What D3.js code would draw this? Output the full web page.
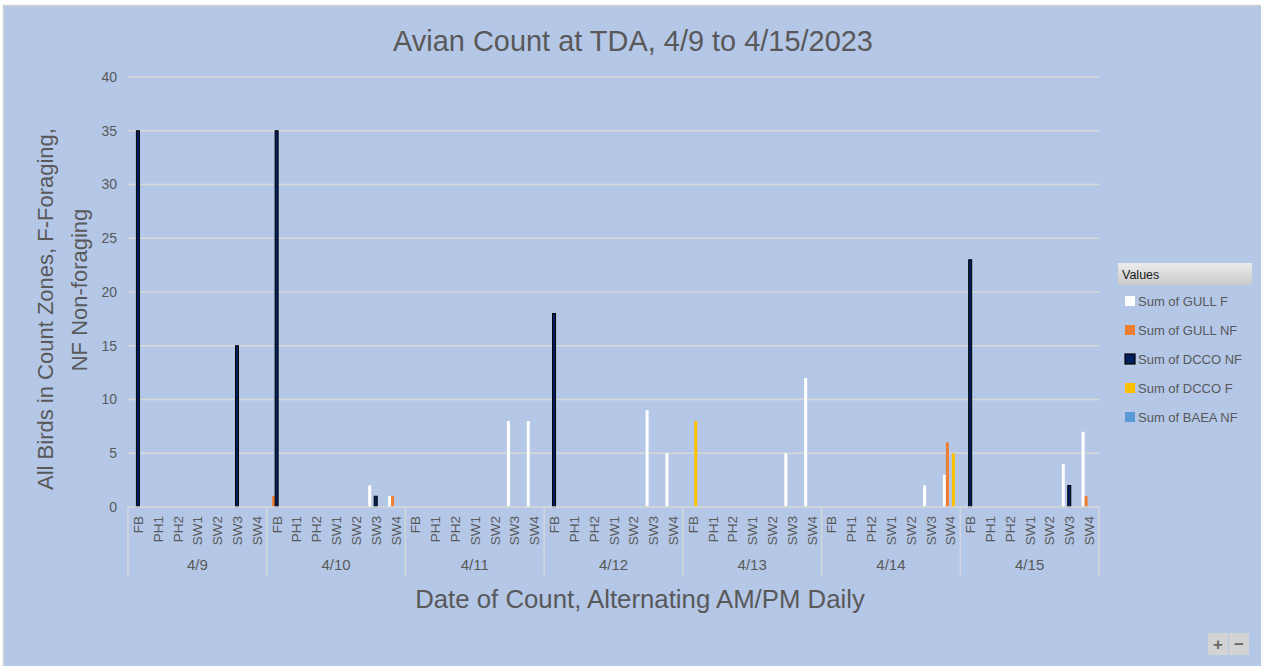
<!DOCTYPE html>
<html>
<head>
<meta charset="utf-8">
<script src="https://cdn.jsdelivr.net/npm/d3@7"></script>
<style>
  html, body { margin: 0; padding: 0; background: #ffffff; }
  svg { display: block; }
  text { font-family: "Liberation Sans", Arial, sans-serif; }
</style>
</head>
<body>
<svg id="chart" width="1261" height="666"></svg>
<script>
// ---- Data ----
const days = ["4/9", "4/10", "4/11", "4/12", "4/13", "4/14", "4/15"];
const zones = ["FB", "PH1", "PH2", "SW1", "SW2", "SW3", "SW4"];
const seriesNames = ["Sum of GULL F", "Sum of GULL NF", "Sum of DCCO NF", "Sum of DCCO F", "Sum of BAEA NF"];
const seriesColors = ["#ffffff", "#ED7D31", "#002060", "#FFC000", "#5B9BD5"];
const yTicks = [0, 5, 10, 15, 20, 25, 30, 35, 40];

// values per day, zone order FB, PH1, PH2, SW1, SW2, SW3, SW4
const gullF = [
  0, 0, 0, 0, 0, 0, 0,
  0, 0, 0, 0, 0, 2, 1,
  0, 0, 0, 0, 0, 8, 8,
  0, 0, 0, 0, 0, 9, 5,
  0, 0, 0, 0, 0, 5, 12,
  0, 0, 0, 0, 0, 2, 3,
  0, 0, 0, 0, 0, 4, 7
];
const gullNF = [
  0, 0, 0, 0, 0, 0, 0,
  1, 0, 0, 0, 0, 0, 1,
  0, 0, 0, 0, 0, 0, 0,
  0, 0, 0, 0, 0, 0, 0,
  0, 0, 0, 0, 0, 0, 0,
  0, 0, 0, 0, 0, 0, 6,
  0, 0, 0, 0, 0, 0, 1
];
const dccoNF = [
  35, 0, 0, 0, 0, 15, 0,
  35, 0, 0, 0, 0, 1, 0,
  0, 0, 0, 0, 0, 0, 0,
  18, 0, 0, 0, 0, 0, 0,
  0, 0, 0, 0, 0, 0, 0,
  0, 0, 0, 0, 0, 0, 0,
  23, 0, 0, 0, 0, 2, 0
];
const dccoF = [
  0, 0, 0, 0, 0, 0, 0,
  0, 0, 0, 0, 0, 0, 0,
  0, 0, 0, 0, 0, 0, 0,
  0, 0, 0, 0, 0, 0, 0,
  8, 0, 0, 0, 0, 0, 0,
  0, 0, 0, 0, 0, 0, 5,
  0, 0, 0, 0, 0, 0, 0
];
const baeaNF = [
  0, 0, 0, 0, 0, 0, 0,
  0, 0, 0, 0, 0, 0, 0,
  0, 0, 0, 0, 0, 0, 0,
  0, 0, 0, 0, 0, 0, 0,
  0, 0, 0, 0, 0, 0, 0,
  0, 0, 0, 0, 0, 0, 0,
  0, 0, 0, 0, 0, 0, 0
];
const seriesValues = [gullF, gullNF, dccoNF, dccoF, baeaNF];

// ---- Layout ----
const svg = d3.select("#chart");
const W = 1261, H = 666;
const plot = { left: 128, right: 1099, top: 77, bottom: 507 };
const textGray = "#595959";
const gridColor = "#d9d9d9";

// background
svg.append("rect").attr("x", 3.5).attr("y", 5.5).attr("width", W).attr("height", H)
  .attr("fill", "#B4C7E7").attr("stroke", "#d0d0d0").attr("stroke-width", 1.5);

const categories = [];
days.forEach(d => zones.forEach(z => categories.push(d + "|" + z)));

const x = d3.scaleBand().domain(categories).range([plot.left, plot.right]).paddingInner(0).paddingOuter(0);
const xs = d3.scaleBand().domain(seriesNames).range([0, x.bandwidth()]).paddingInner(0).paddingOuter(0.8);
const y = d3.scaleLinear().domain([0, 40]).range([plot.bottom, plot.top]);

// gridlines
svg.append("g").selectAll("line").data(yTicks.filter(t => t > 0)).join("line")
  .attr("x1", plot.left).attr("x2", plot.right)
  .attr("y1", d => y(d)).attr("y2", d => y(d))
  .attr("stroke", gridColor).attr("stroke-width", 1.3);

// y axis
const yAxis = d3.axisLeft(y).tickValues(yTicks).tickSize(0).tickPadding(11);
const gy = svg.append("g").attr("transform", `translate(${plot.left},0)`).call(yAxis);
gy.select(".domain").remove();
gy.selectAll("text").attr("fill", textGray).style("font-size", "14px")
  .style("font-family", "'Liberation Sans', Arial, sans-serif");

// bars
const barData = [];
seriesValues.forEach((vals, si) => {
  vals.forEach((v, ci) => {
    if (v > 0) barData.push({ s: seriesNames[si], si, c: categories[ci], v });
  });
});
svg.append("g").selectAll("rect").data(barData).join("rect")
  .attr("x", d => x(d.c) + xs(d.s))
  .attr("width", xs.bandwidth())
  .attr("y", d => y(d.v))
  .attr("height", d => y(0) - y(d.v))
  .attr("fill", d => seriesColors[d.si])
  .attr("stroke", d => d.si === 2 ? "#000000" : "none")
  .attr("stroke-width", 1);

// x axis line
svg.append("line").attr("x1", plot.left).attr("x2", plot.right)
  .attr("y1", plot.bottom).attr("y2", plot.bottom)
  .attr("stroke", gridColor).attr("stroke-width", 1.3);

// category labels (rotated)
const xAxis = d3.axisBottom(x).tickSize(0).tickPadding(0).tickFormat(d => d.split("|")[1]);
const gx = svg.append("g").attr("transform", `translate(0,${plot.bottom})`).call(xAxis);
gx.select(".domain").remove();
gx.selectAll("text")
  .attr("fill", textGray)
  .style("font-size", "13.5px")
  .attr("text-anchor", "end")
  .attr("dy", null)
  .attr("y", 0)
  .attr("transform", "translate(5,9) rotate(-90)");

// day separators and labels
const dayStep = (plot.right - plot.left) / days.length;
const sepX = d3.range(days.length + 1).map(i => plot.left + i * dayStep);
svg.append("g").selectAll("line").data(sepX).join("line")
  .attr("x1", d => d).attr("x2", d => d)
  .attr("y1", plot.bottom).attr("y2", 576)
  .attr("stroke", gridColor).attr("stroke-width", 1.3);
svg.append("g").selectAll("text").data(days).join("text")
  .attr("x", (d, i) => x(d + "|" + zones[0]) + dayStep / 2)
  .attr("y", 570)
  .attr("text-anchor", "middle")
  .attr("fill", textGray)
  .style("font-size", "15px")
  .text(d => d);

// fit helper
function fit(sel, target) {
  const len = sel.node().getComputedTextLength();
  const fs = parseFloat(sel.style("font-size"));
  sel.style("font-size", (fs * target / len) + "px");
}

// title
const title = svg.append("text").attr("x", 633).attr("y", 51).attr("text-anchor", "middle")
  .attr("fill", textGray).style("font-size", "22px").text("Avian Count at TDA, 4/9 to 4/15/2023");
fit(title, 480);

// x axis title
const xt = svg.append("text").attr("x", 640).attr("y", 608).attr("text-anchor", "middle")
  .attr("fill", textGray).style("font-size", "20px").text("Date of Count, Alternating AM/PM Daily");
fit(xt, 450);

// y axis title (two lines)
const yt1 = svg.append("text").attr("transform", "translate(53,309) rotate(-90)").attr("text-anchor", "middle")
  .attr("fill", textGray).style("font-size", "20px").text("All Birds in Count Zones, F-Foraging,");
fit(yt1, 362);
const yt2 = svg.append("text").attr("transform", "translate(87,290) rotate(-90)").attr("text-anchor", "middle")
  .attr("fill", textGray).style("font-size", "20px").text("NF Non-foraging");
yt2.style("font-size", yt1.style("font-size"));

// legend
const defs = svg.append("defs");
const grad = defs.append("linearGradient").attr("id", "hdr").attr("x1", 0).attr("y1", 0).attr("x2", 0).attr("y2", 1);
grad.append("stop").attr("offset", "0%").attr("stop-color", "#ececec");
grad.append("stop").attr("offset", "100%").attr("stop-color", "#c9c9c9");
svg.append("rect").attr("x", 1118).attr("y", 263).attr("width", 134).attr("height", 22).attr("fill", "url(#hdr)");
svg.append("text").attr("x", 1122).attr("y", 279).attr("fill", "#1a1a1a").style("font-size", "12.5px").text("Values");

const lg = svg.append("g").selectAll("g").data(seriesNames).join("g")
  .attr("transform", (d, i) => `translate(1125,${301 + i * 29})`);
lg.append("rect").attr("x", 0).attr("y", -5).attr("width", 10).attr("height", 10)
  .attr("fill", (d, i) => seriesColors[i])
  .attr("stroke", (d, i) => i === 2 ? "#000" : "none").attr("stroke-width", 1.2);
lg.append("text").attr("x", 13).attr("y", 5).attr("fill", textGray).style("font-size", "13px").text(d => d);

// zoom buttons
const btn = svg.append("g");
[["+", 1208], ["−", 1229]].forEach(([t, bx]) => {
  btn.append("rect").attr("x", bx).attr("y", 633).attr("width", 20).attr("height", 22).attr("fill", "#d3d3d3");
  btn.append("text").attr("x", bx + 10).attr("y", 650).attr("text-anchor", "middle")
    .attr("fill", "#666").style("font-size", "17px").style("font-weight", "bold").text(t);
});
</script>
</body>
</html>
